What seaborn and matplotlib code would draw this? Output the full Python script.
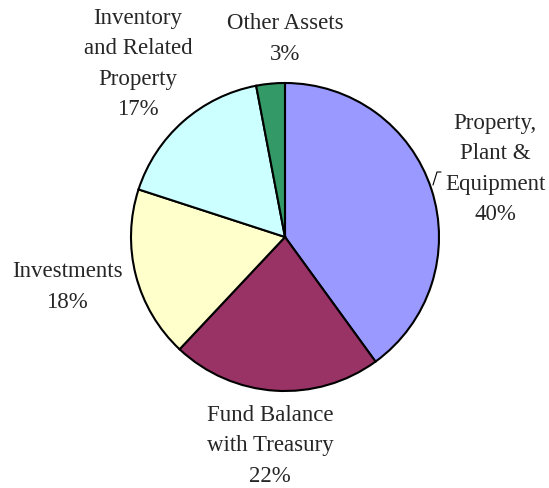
import matplotlib
matplotlib.use("Agg")
import matplotlib.pyplot as plt
import seaborn as sns

labels = ["Property,\nPlant &\nEquipment", "Fund Balance\nwith Treasury", "Investments",
          "Inventory\nand Related\nProperty", "Other Assets"]
shares = [40, 22, 18, 17, 3]
colors = ["#9999FF", "#993366", "#FFFFCC", "#CCFFFF", "#339966"]
# label centres in pixels of the 549x489 image
label_px = [(495, 169), (270, 446), (67, 287), (138, 64), (285, 39)]

sns.set_style("white")
plt.rcParams["font.family"] = ["Liberation Serif", "DejaVu Serif"]

W, H = 549, 489
cx, cy, r = 285, 238, 154

fig = plt.figure(figsize=(W / 100, H / 100), dpi=100)
ax = fig.add_axes([0, 0, 1, 1])
ax.pie(shares, colors=colors, startangle=90, counterclock=False, radius=1,
       wedgeprops=dict(edgecolor="black", linewidth=1.5))
ax.set_xlim(-cx / r, (W - cx) / r)
ax.set_ylim(-(H - cy) / r, cy / r)
ax.set_aspect("equal")
ax.axis("off")

for lab, val, (px, py) in zip(labels, shares, label_px):
    ax.text((px - cx) / r, (cy - py) / r, f"{lab}\n{val}%", ha="center", va="center",
            multialignment="center", fontsize=16.5, linespacing=1.6)

# small leader line near the Property label
ax.plot([(441 - cx) / r, (437 - cx) / r, (433 - cx) / r],
        [(cy - 173) / r, (cy - 173) / r, (cy - 186) / r], color="black", lw=0.8)

fig.savefig("out.png", dpi=100)
